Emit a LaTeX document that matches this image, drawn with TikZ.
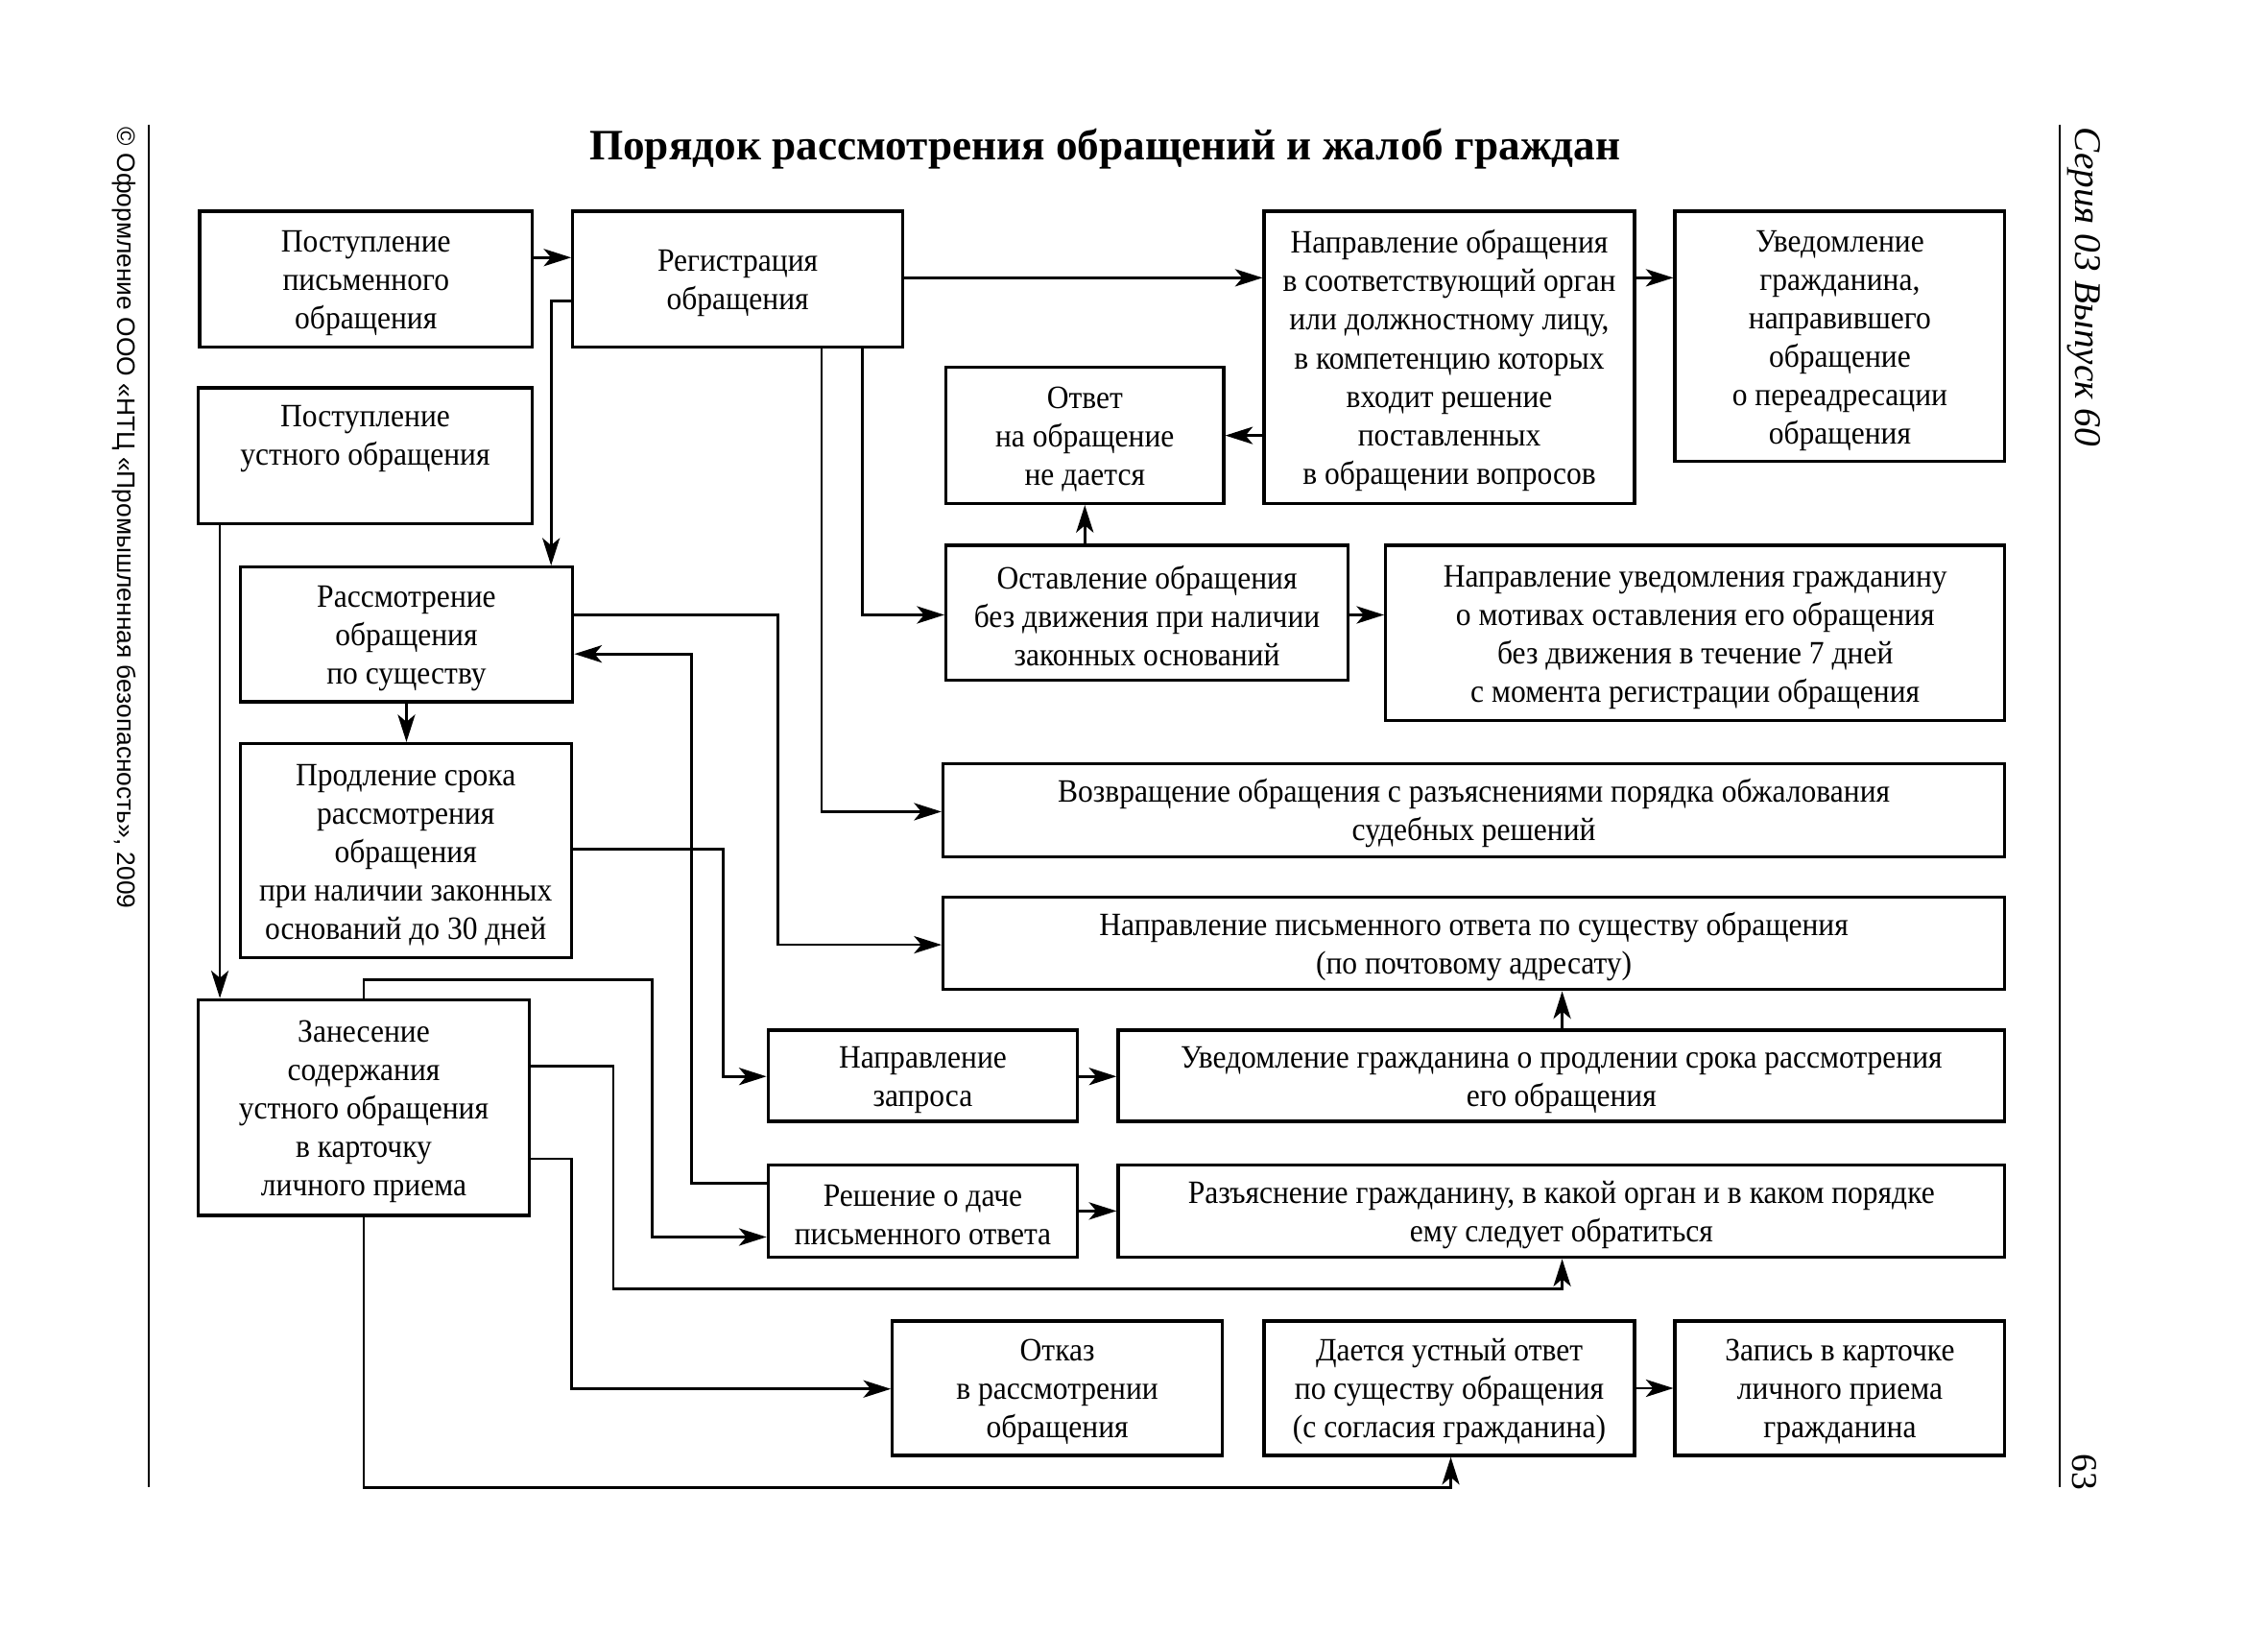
\documentclass[tikz,border=0pt]{standalone}
\usepackage{fontspec}
\setmainfont{Liberation Serif}
\newfontfamily\boxfont{Liberation Serif}[FakeStretch=0.93]
\newfontfamily\sidefont{Liberation Sans}
\usetikzlibrary{arrows.meta,calc}
\newcommand\tp{\rule{0pt}{20.5pt}}
\tikzset{
  box/.style={draw, line width=2.2pt, inner sep=0pt, align=center,
    font=\boxfont\fontsize{22.5}{26.6}\selectfont},
  arr/.style={line width=1.8pt, -{Stealth[length=19pt,width=12pt,inset=5pt]}},
  rule/.style={line width=1.5pt},
}
\begin{document}
\begin{tikzpicture}[x=1pt,y=-1pt]
\useasboundingbox[fill=white] (0,0) rectangle (1568,1129);

% side decorations
\draw[rule] (103,86) coordinate (LT) -- (103,1028) coordinate (LB);
\draw[rule] (1424,86) coordinate (RT) -- (1424,1028) coordinate (RB);
\node[rotate=-90, anchor=west, inner sep=0pt, font=\sidefont\fontsize{17.5}{20}\selectfont] (copy) at (86,88)
  {© Оформление ООО «НТЦ «Промышленная безопасность», 2009};
\node[rotate=-90, anchor=west, inner sep=0pt, font=\fontsize{26}{28}\selectfont\itshape] (series) at (1441,88)
  {Серия 03 Выпуск 60};
\node[rotate=-90, anchor=east, inner sep=0pt, font=\fontsize{25}{28}\selectfont] (page) at (1441,1030)
  {63};

% title
\node[font=\fontsize{30}{34}\selectfont\bfseries] (title) at (764,103)
  {Порядок рассмотрения обращений и жалоб граждан};

% boxes
\node[box, minimum width=230, minimum height=94] (B1) at (253,193) {\tp Поступление\\письменного\\обращения};
\node[box, minimum width=228, minimum height=94] (B2) at (510,193) {\tp Регистрация\\обращения};
\node[box, minimum width=256, minimum height=202] (B3) at (1002,247) {\tp Направление обращения\\в соответствующий орган\\или должностному лицу,\\в компетенцию которых\\входит решение\\поставленных\\в обращении вопросов};
\node[box, minimum width=228, minimum height=173] (B4) at (1272,232.5) {\tp Уведомление\\гражданина,\\направившего\\обращение\\о переадресации\\обращения};
\node[box, minimum width=231, minimum height=94] (B5) at (252.5,315) {\tp Поступление\\устного обращения\\\strut};
\node[box, minimum width=192, minimum height=94] (B6) at (750,301) {\tp Ответ\\на обращение\\не дается};
\node[box, minimum width=230, minimum height=93] (B7) at (281,438.5) {\tp Рассмотрение\\обращения\\по существу};
\node[box, minimum width=278, minimum height=93] (B8) at (793,423.5) {\tp Оставление обращения\\без движения при наличии\\законных оснований};
\node[box, minimum width=428, minimum height=121] (B9) at (1172,437.5) {\tp Направление уведомления гражданину\\о мотивах оставления его обращения\\без движения в течение 7 дней\\с момента регистрации обращения};
\node[box, minimum width=229, minimum height=148] (B10) at (280.5,588) {\tp Продление срока\\рассмотрения\\обращения\\при наличии законных\\оснований до 30 дней};
\node[box, minimum width=734, minimum height=64] (B11) at (1019,560) {\tp Возвращение обращения с разъяснениями порядка обжалования\\судебных решений};
\node[box, minimum width=734, minimum height=64] (B12) at (1019,652) {\tp Направление письменного ответа по существу обращения\\(по почтовому адресату)};
\node[box, minimum width=229, minimum height=149] (B13) at (251.5,765.5) {\tp Занесение\\содержания\\устного обращения\\в карточку\\личного приема};
\node[box, minimum width=214, minimum height=63] (B14) at (638,743.5) {\tp Направление\\запроса};
\node[box, minimum width=613, minimum height=63] (B15) at (1079.5,743.5) {\tp Уведомление гражданина о продлении срока рассмотрения\\его обращения};
\node[box, minimum width=214, minimum height=64] (B16) at (638,837) {\tp Решение о даче\\письменного ответа};
\node[box, minimum width=613, minimum height=64] (B17) at (1079.5,837) {\tp Разъяснение гражданину, в какой орган и в каком порядке\\ему следует обратиться};
\node[box, minimum width=228, minimum height=93] (B18) at (731,959.5) {\tp Отказ\\в рассмотрении\\обращения};
\node[box, minimum width=256, minimum height=93] (B19) at (1002,959.5) {\tp Дается устный ответ\\по существу обращения\\(с согласия гражданина)};
\node[box, minimum width=228, minimum height=93] (B20) at (1272,959.5) {\tp Запись в карточке\\личного приема\\гражданина};

% connectors
\draw[arr] (B1.east |- 0,178) -- (B2.west |- 0,178);
\draw[arr] (B2.east |- 0,192) -- (B3.west |- 0,192);
\draw[arr] (B3.east |- 0,192) -- (B4.west |- 0,192);
\draw[arr] (B3.west |- 0,301) -- (B6.east |- 0,301);
\draw[arr] (B6.south |- B8.north) -- (B6.south);
\draw[arr] (B8.east |- 0,425) -- (B9.west |- 0,425);
\draw[arr] (B2.south -| 596,0) |- (B8.west |- 0,425);
\draw[arr] (B2.south -| 568,0) |- (B11.west |- 0,561);
\draw[arr] (B2.west |- 0,208) -| (B7.north -| 381,0);
\draw[arr] (B5.south -| 152,0) -- (B13.north -| 152,0);
\draw[arr] (B7.south) -- (B7.south |- B10.north);
\draw[arr] (B7.east |- 0,425) -| (538,653) -- (B12.west |- 0,653);
\draw[arr] (B16.west |- 0,818) -| (478,452) -- (B7.east |- 0,452);
\draw[arr] (B10.east |- 0,587) -| (500,744) -- (B14.west |- 0,744);
\draw[arr] (B14.east |- 0,744) -- (B15.west |- 0,744);
\draw[arr] (B15.north -| 1080,0) -- (B12.south -| 1080,0);
\draw[arr] (B16.east) -- (B17.west);
\draw[arr] (B13.north) |- (451,677) |- (B16.west |- 0,855);
\draw[arr] (B13.east |- 0,737) -| (424,891) -| (B17.south -| 1080,0);
\draw[arr] (B13.east |- 0,801) -| (395,960) -- (B18.west |- 0,960);
\draw[arr] (B13.south) |- (1003,1028) -- (B19.south -| 1003,0);
\draw[arr] (B19.east) -- (B20.west);
\end{tikzpicture}
\end{document}
